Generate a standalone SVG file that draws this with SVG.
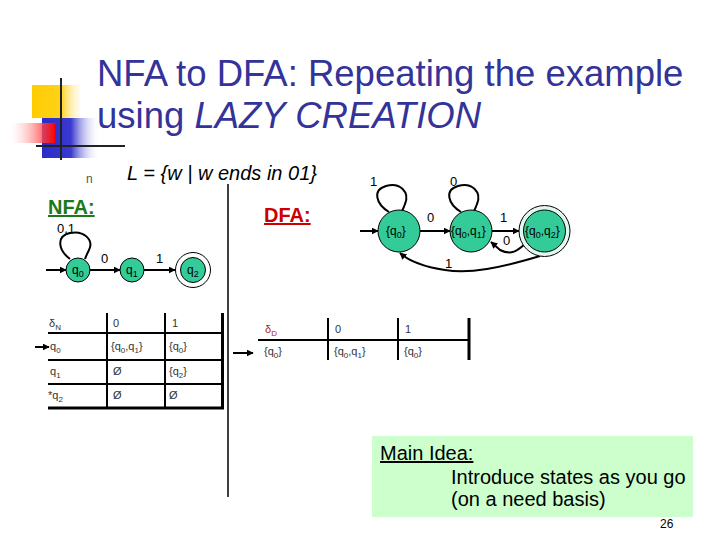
<svg xmlns="http://www.w3.org/2000/svg" width="720" height="540" viewBox="0 0 720 540">
<defs>
<linearGradient id="gy" x1="0" x2="1" y1="0" y2="0"><stop offset="0" stop-color="#ffcc00"/><stop offset="0.6" stop-color="#ffd21a"/><stop offset="1" stop-color="#fff3cc" stop-opacity="0.3"/></linearGradient>
<linearGradient id="gb" x1="0" x2="1" y1="0" y2="0"><stop offset="0" stop-color="#2b2bc8"/><stop offset="0.5" stop-color="#3a3ad0"/><stop offset="1" stop-color="#ffffff" stop-opacity="0"/></linearGradient>
<linearGradient id="gr" x1="0" x2="1" y1="0" y2="0"><stop offset="0" stop-color="#ffffff" stop-opacity="0.2"/><stop offset="1" stop-color="#ff0000"/></linearGradient>
<marker id="ah" viewBox="0 0 10 10" refX="9" refY="5" markerWidth="7" markerHeight="7" orient="auto" markerUnits="userSpaceOnUse"><path d="M0,0 L10,5 L0,10 z" fill="#000"/></marker>
</defs>
<style>
text{font-family:"Liberation Sans",Arial,sans-serif}
.title{font-size:36.5px;fill:#333399}
.lbl{font-size:13px;fill:#000}
.st{font-size:12px;fill:#000}
.tb{font-size:11px;fill:#333}
.node{fill:#33cc99;stroke:#000;stroke-width:1}
.edge{fill:none;stroke:#000;stroke-width:2}
.tl{stroke:#000;stroke-width:2}
.idea{font-size:20px;fill:#000}
</style>
<rect width="720" height="540" fill="#fff"/>
<g id="logo">
<rect x="32" y="85" width="48" height="33" fill="url(#gy)"/>
<rect x="42" y="118" width="58" height="40" fill="url(#gb)"/>
<rect x="10" y="123" width="45" height="20" fill="url(#gr)"/>
<line x1="61" y1="78" x2="61" y2="160" stroke="#222" stroke-width="2"/>
<line x1="36" y1="146" x2="125" y2="146" stroke="#222" stroke-width="2"/>
</g>
<g id="title">
<text class="title" x="97" y="86">NFA to DFA: Repeating the example</text>
<text class="title" x="97" y="128">using <tspan font-style="italic">LAZY CREATION</tspan></text>
</g>
<g id="bullet">
<text x="86" y="183" font-size="12" fill="#555">n</text>
<text x="127" y="180" font-size="20" font-style="italic" fill="#000">L = {w | w ends in 01}</text>
</g>
<text x="48" y="214" font-size="20" font-weight="bold" fill="#1a7a1a" text-decoration="underline">NFA:</text>
<text x="264" y="222" font-size="20" font-weight="bold" fill="#cc0000" text-decoration="underline">DFA:</text>
<line x1="228" y1="184" x2="228" y2="497" stroke="#000" stroke-width="1.5"/>

<g id="connectors">
<!-- NFA -->
<line class="edge" x1="46" y1="270" x2="66" y2="270" marker-end="url(#ah)"/>
<line class="edge" x1="90" y1="270" x2="120" y2="270" marker-end="url(#ah)"/>
<line class="edge" x1="144" y1="270" x2="175" y2="270" marker-end="url(#ah)"/>
<path class="edge" d="M70,259 C58,250 56,236 70,233 C84,230 94,240 89,250 C87,254 86,256 85,259"/>
<!-- DFA -->
<line class="edge" x1="360" y1="231" x2="378" y2="231" marker-end="url(#ah)"/>
<line class="edge" x1="420" y1="231" x2="450" y2="231" marker-end="url(#ah)"/>
<line class="edge" x1="492" y1="231" x2="519" y2="231" marker-end="url(#ah)"/>
<path class="edge" d="M389,212 C376,204 372,190 386,186 C400,182 410,192 405,204 C404,207 403,209 402,211"/>
<path class="edge" d="M461,212 C448,204 444,190 458,186 C472,182 482,192 477,204 C476,207 475,209 474,211"/>
<path class="edge" d="M526,243 C518,250 512,256 500,250 L491,242" marker-end="url(#ah)"/>
<path class="edge" d="M540,256 C500,268 470,274 445,270 C425,267 410,262 400,253" marker-end="url(#ah)"/>
</g>

<g id="nfa-labels">
<text class="lbl" x="57" y="233">0,1</text>
<text class="lbl" x="101" y="263">0</text>
<text class="lbl" x="156" y="263">1</text>
</g>
<g id="nfa-q0"><circle class="node" cx="78" cy="270" r="12"/><text class="st" x="72" y="274">q<tspan font-size="9" dy="3">0</tspan></text></g>
<g id="nfa-q1"><circle class="node" cx="132" cy="270" r="12"/><text class="st" x="126" y="274">q<tspan font-size="9" dy="3">1</tspan></text></g>
<g id="nfa-q2"><circle cx="193" cy="270" r="17.5" fill="#fff" stroke="#000" stroke-width="1"/><circle class="node" cx="193" cy="270" r="12.5"/><text class="st" x="187" y="274">q<tspan font-size="9" dy="3">2</tspan></text></g>

<g id="dfa-labels">
<text class="lbl" x="370" y="186">1</text>
<text class="lbl" x="450" y="186">0</text>
<text class="lbl" x="427" y="222">0</text>
<text class="lbl" x="500" y="222">1</text>
<text class="lbl" x="503" y="245">0</text>
<text class="lbl" x="445" y="268">1</text>
</g>
<g id="dfa-q0"><circle class="node" cx="399" cy="231" r="21"/><text class="st" x="386" y="235">{q<tspan font-size="9" dy="3">0</tspan><tspan dy="-3">}</tspan></text></g>
<g id="dfa-q01"><circle class="node" cx="471" cy="231" r="21"/><text class="st" x="451" y="235">{q<tspan font-size="9" dy="3">0</tspan><tspan dy="-3">,q</tspan><tspan font-size="9" dy="3">1</tspan><tspan dy="-3">}</tspan></text></g>
<g id="dfa-q02"><circle cx="544.5" cy="231" r="25.5" fill="#e2f7f0" stroke="#000" stroke-width="1"/><circle class="node" cx="544.5" cy="231" r="21"/><text class="st" x="525" y="235">{q<tspan font-size="9" dy="3">0</tspan><tspan dy="-3">,q</tspan><tspan font-size="9" dy="3">2</tspan><tspan dy="-3">}</tspan></text></g>

<g id="nfa-table">
<line class="tl" x1="48" y1="333" x2="223" y2="333"/>
<line class="tl" x1="48" y1="360" x2="223" y2="360"/>
<line class="tl" x1="48" y1="384" x2="223" y2="384"/>
<line x1="48" y1="408" x2="224" y2="408" stroke="#000" stroke-width="3"/>
<line class="tl" x1="107" y1="313" x2="107" y2="408"/>
<line class="tl" x1="165" y1="313" x2="165" y2="408"/>
<line x1="222.5" y1="313" x2="222.5" y2="409" stroke="#000" stroke-width="3"/>
<line x1="35" y1="347" x2="49" y2="347" stroke="#000" stroke-width="2" marker-end="url(#ah)"/>
<text class="tb" x="49" y="327">δ<tspan font-size="8" dy="3">N</tspan></text>
<text class="tb" x="113" y="327">0</text>
<text class="tb" x="172" y="327">1</text>
<text class="tb" x="50" y="350">q<tspan font-size="8" dy="3">0</tspan></text>
<text class="tb" x="111" y="350">{q<tspan font-size="8" dy="3">0</tspan><tspan dy="-3">,q</tspan><tspan font-size="8" dy="3">1</tspan><tspan dy="-3">}</tspan></text>
<text class="tb" x="169" y="350">{q<tspan font-size="8" dy="3">0</tspan><tspan dy="-3">}</tspan></text>
<text class="tb" x="50" y="375">q<tspan font-size="8" dy="3">1</tspan></text>
<text class="tb" x="113" y="375">Ø</text>
<text class="tb" x="169" y="375">{q<tspan font-size="8" dy="3">2</tspan><tspan dy="-3">}</tspan></text>
<text class="tb" x="48" y="399">*q<tspan font-size="8" dy="3">2</tspan></text>
<text class="tb" x="113" y="399">Ø</text>
<text class="tb" x="169" y="399">Ø</text>
</g>

<g id="dfa-table">
<line class="tl" x1="258" y1="340" x2="469" y2="340"/>
<line class="tl" x1="328" y1="318" x2="328" y2="360"/>
<line class="tl" x1="398" y1="318" x2="398" y2="360"/>
<line x1="469" y1="318" x2="469" y2="360" stroke="#000" stroke-width="3"/>
<line x1="233" y1="353" x2="253" y2="353" stroke="#000" stroke-width="2" marker-end="url(#ah)"/>
<text class="tb" x="265" y="333" style="fill:#b22222">δ<tspan font-size="8" dy="3">D</tspan></text>
<text class="tb" x="335" y="333">0</text>
<text class="tb" x="405" y="333">1</text>
<text class="tb" x="264" y="355">{q<tspan font-size="8" dy="3">0</tspan><tspan dy="-3">}</tspan></text>
<text class="tb" x="334" y="355">{q<tspan font-size="8" dy="3">0</tspan><tspan dy="-3">,q</tspan><tspan font-size="8" dy="3">1</tspan><tspan dy="-3">}</tspan></text>
<text class="tb" x="404" y="355">{q<tspan font-size="8" dy="3">0</tspan><tspan dy="-3">}</tspan></text>
</g>

<g id="main-idea">
<rect x="372" y="436" width="321" height="81" fill="#ccffcc"/>
<text class="idea" x="380" y="460" text-decoration="underline">Main Idea:</text>
<text class="idea" x="451" y="484">Introduce states as you go</text>
<text class="idea" x="451" y="506">(on a need basis)</text>
</g>
<text x="660" y="528" font-size="12" fill="#000">26</text>
</svg>
